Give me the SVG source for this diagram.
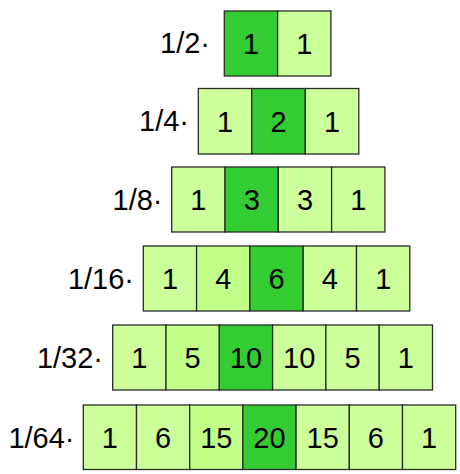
<svg xmlns="http://www.w3.org/2000/svg" width="460" height="474" viewBox="0 0 460 474">
<style>
rect{stroke:#2a2a2a;stroke-width:1.3}
.l{fill:#ccff99}.m{fill:#c2ff88}.d{fill:#33cc33}
text{font-family:"Liberation Sans",Arial,sans-serif;font-size:29px;fill:#000}
.n{text-anchor:middle}.lab{text-anchor:end}
</style>
<rect x="0" y="0" width="460" height="474" fill="#fff" style="stroke:none"/>
<g id="row1">
<text class="lab" x="210" y="53">1/2·</text>
<g id="r1c1"><rect class="d" x="224.3" y="11" width="53.3" height="65"/><text class="n" x="251" y="54">1</text></g>
<g id="r1c2"><rect class="l" x="277.6" y="11" width="53.3" height="65"/><text class="n" x="304.3" y="54">1</text></g>
</g>
<g id="row2">
<text class="lab" x="189" y="131">1/4·</text>
<g id="r2c1"><rect class="l" x="198.3" y="88.5" width="53.5" height="65.5"/><text class="n" x="225" y="132">1</text></g>
<g id="r2c2"><rect class="d" x="251.8" y="88.5" width="53.5" height="65.5"/><text class="n" x="278.5" y="132">2</text></g>
<g id="r2c3"><rect class="l" x="305.3" y="88.5" width="53.5" height="65.5"/><text class="n" x="332" y="132">1</text></g>
</g>
<g id="row3">
<text class="lab" x="162.5" y="209.5">1/8·</text>
<g id="r3c1"><rect class="l" x="171.7" y="167" width="53.3" height="65"/><text class="n" x="198.3" y="210">1</text></g>
<g id="r3c2"><rect class="d" x="225" y="167" width="53.3" height="65"/><text class="n" x="251.7" y="210">3</text></g>
<g id="r3c3"><rect class="l" x="278.3" y="167" width="53.3" height="65"/><text class="n" x="305" y="210">3</text></g>
<g id="r3c4"><rect class="l" x="331.6" y="167" width="53.3" height="65"/><text class="n" x="358.3" y="210">1</text></g>
</g>
<g id="row4">
<text class="lab" x="134" y="288.5">1/16·</text>
<g id="r4c1"><rect class="l" x="143.3" y="246" width="53.3" height="65"/><text class="n" x="170" y="289">1</text></g>
<g id="r4c2"><rect class="m" x="196.6" y="246" width="53.3" height="65"/><text class="n" x="223.3" y="289">4</text></g>
<g id="r4c3"><rect class="d" x="249.9" y="246" width="53.3" height="65"/><text class="n" x="276.6" y="289">6</text></g>
<g id="r4c4"><rect class="l" x="303.2" y="246" width="53.3" height="65"/><text class="n" x="329.9" y="289">4</text></g>
<g id="r4c5"><rect class="l" x="356.5" y="246" width="53.3" height="65"/><text class="n" x="383.2" y="289">1</text></g>
</g>
<g id="row5">
<text class="lab" x="103" y="367.5">1/32·</text>
<g id="r5c1"><rect class="l" x="112.7" y="325" width="53.3" height="65"/><text class="n" x="139.3" y="368">1</text></g>
<g id="r5c2"><rect class="m" x="166" y="325" width="53.3" height="65"/><text class="n" x="192.6" y="368">5</text></g>
<g id="r5c3"><rect class="d" x="219.3" y="325" width="53.3" height="65"/><text class="n" x="245.9" y="368">10</text></g>
<g id="r5c4"><rect class="l" x="272.6" y="325" width="53.3" height="65"/><text class="n" x="299.2" y="368">10</text></g>
<g id="r5c5"><rect class="l" x="325.9" y="325" width="53.3" height="65"/><text class="n" x="352.5" y="368">5</text></g>
<g id="r5c6"><rect class="l" x="379.2" y="325" width="53.3" height="65"/><text class="n" x="405.8" y="368">1</text></g>
</g>
<g id="row6">
<text class="lab" x="74.5" y="447.5">1/64·</text>
<g id="r6c1"><rect class="l" x="83.3" y="405" width="53.2" height="64.5"/><text class="n" x="109.9" y="448">1</text></g>
<g id="r6c2"><rect class="l" x="136.5" y="405" width="53.2" height="64.5"/><text class="n" x="163.1" y="448">6</text></g>
<g id="r6c3"><rect class="m" x="189.7" y="405" width="53.2" height="64.5"/><text class="n" x="216.3" y="448">15</text></g>
<g id="r6c4"><rect class="d" x="242.9" y="405" width="53.2" height="64.5"/><text class="n" x="269.5" y="448">20</text></g>
<g id="r6c5"><rect class="l" x="296.1" y="405" width="53.2" height="64.5"/><text class="n" x="322.7" y="448">15</text></g>
<g id="r6c6"><rect class="l" x="349.3" y="405" width="53.2" height="64.5"/><text class="n" x="375.9" y="448">6</text></g>
<g id="r6c7"><rect class="l" x="402.5" y="405" width="53.2" height="64.5"/><text class="n" x="429.1" y="448">1</text></g>
</g>
<g id="connectors"/>
</svg>
